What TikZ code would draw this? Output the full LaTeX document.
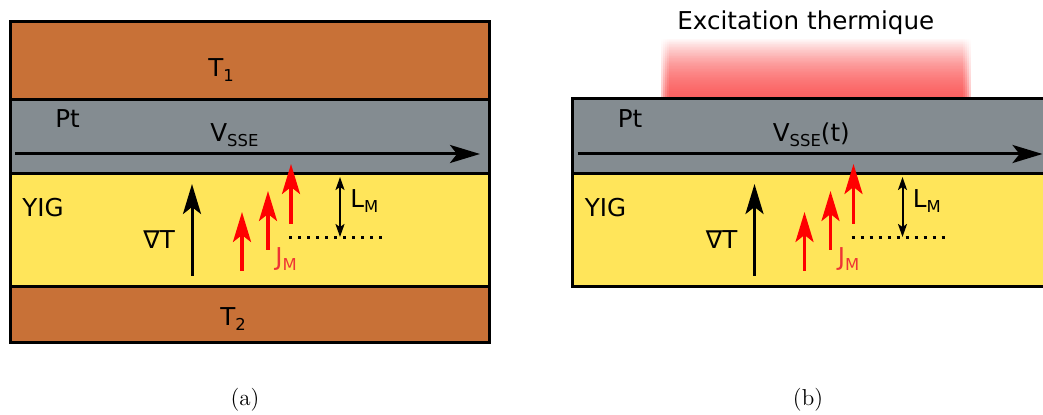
\documentclass[tikz,border=0pt]{standalone}
\usepackage{fontspec}
\setsansfont{DejaVu Sans}
\usetikzlibrary{arrows.meta,fadings}
\definecolor{copper}{RGB}{200,113,55}
\definecolor{ptgray}{RGB}{132,140,145}
\definecolor{yigyellow}{RGB}{255,229,90}
\definecolor{glowred}{RGB}{250,68,68}
\definecolor{jmred}{RGB}{238,52,52}
\tikzfading[name=glowfade, top color=transparent!100, bottom color=transparent!0]
\newcommand{\lowsub}[1]{\raisebox{-2.5pt}{\fontsize{8.2}{9}\selectfont #1}}

\begin{document}
\begin{tikzpicture}[x=0.5pt,y=-0.5pt,
   layer/.style={draw=black,line width=1.5pt},
   lbl/.style={font=\sffamily\fontsize{12.3}{14}\selectfont,inner sep=0pt,anchor=base west},
   big/.style={-{Stealth[length=15pt,width=9pt,inset=3.5pt]},line width=1.5pt},
   jm/.style={big,red,line width=1.75pt},
   lm/.style={{Stealth[length=6.5pt,width=4.5pt,inset=1.5pt]}-{Stealth[length=6.5pt,width=4.5pt,inset=1.5pt]},line width=1pt},
   dots/.style={line width=1.5pt,dash pattern=on 1.5pt off 3pt}]
  \clip (0,0) rectangle (1043,415);
  % panel (a): the four layers
  \filldraw[layer,fill=copper]    (10,22)  rectangle (489,100);
  \filldraw[layer,fill=ptgray]    (10,100) rectangle (489,174);
  \filldraw[layer,fill=yigyellow] (10,174) rectangle (489,287);
  \filldraw[layer,fill=copper]    (10,287) rectangle (489,343);
  \node[lbl] (t1) at (208,77)  {T\lowsub{1}};
  \node[lbl] (t2) at (220,326) {T\lowsub{2}};
  % panel (b): heating from above
  \foreach \d in {0,...,4}{
    \fill[glowred,opacity=0.33,path fading=glowfade] (661+2*\d,38) rectangle (971-2*\d,99);}
  \filldraw[layer,fill=ptgray]    (572,99)  rectangle (1070,174);
  \filldraw[layer,fill=yigyellow] (572,174) rectangle (1070,287);
  \node[lbl] (exc) at (677,30) {Excitation thermique};
  % common content of both panels
  \foreach \dx/\pan/\vt in {0/a/{}, 281.25/b/(t)}{
    \begin{scope}[xshift=\dx pt]
      \node[lbl] (pt\pan)  at (55,128)  {Pt};
      \node[lbl] (v\pan)   at (210,142) {V\lowsub{SSE}\vt};
      \node[lbl] (yig\pan) at (22,217)  {YIG};
      \node[lbl] (grad\pan) at (143,249) {∇T};
      \node[lbl,text=jmred] (jm\pan) at (275,266) {J\lowsub{M}};
      \node[lbl] (lm\pan)  at (350,208) {L\lowsub{M}};
      \coordinate (vs\pan) at (15,154);  \coordinate (ve\pan) at (480,154);
      \coordinate (gs\pan) at (192,276); \coordinate (ge\pan) at (192,184);
      \coordinate (ls\pan) at (340,177); \coordinate (le\pan) at (340,237);
      \coordinate (ds\pan) at (289,238); \coordinate (de\pan) at (382,238);
      \draw[big] (vs\pan) -- (ve\pan);
      \draw[big] (gs\pan) -- (ge\pan);
      \foreach \x/\ya/\yb [count=\k] in {242/271/212, 268/250/191, 291/224/164}{
        \coordinate (js\pan\k) at (\x,\ya);
        \coordinate (je\pan\k) at (\x,\yb);
        \draw[jm] (js\pan\k) -- (je\pan\k);}
      \draw[lm] (ls\pan) -- (le\pan);
      \draw[dots] (ds\pan) -- (de\pan);
    \end{scope}}
  % captions
  \node[font=\fontsize{11.5}{13}\selectfont] (capa) at (245,400) {(a)};
  \node[font=\fontsize{11.5}{13}\selectfont] (capb) at (808,400) {(b)};
\end{tikzpicture}
\end{document}
